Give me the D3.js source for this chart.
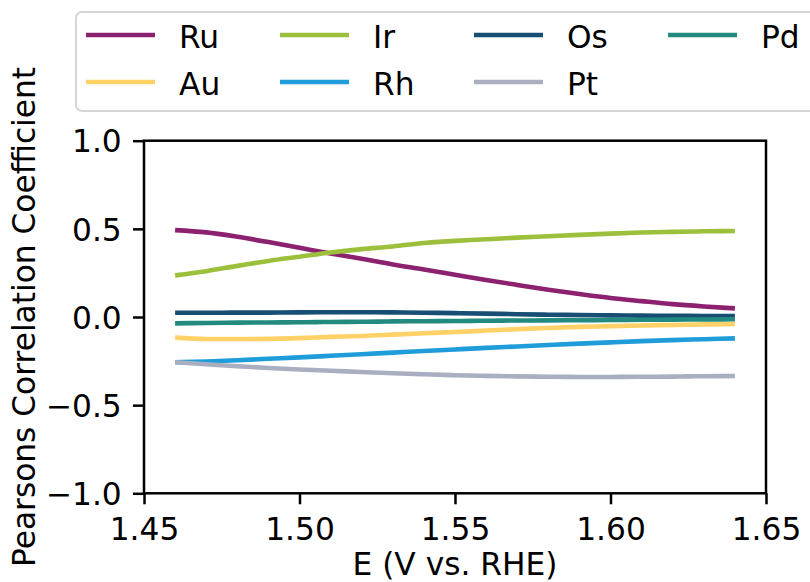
<!DOCTYPE html>
<html>
<head>
<meta charset="utf-8">
<script src="https://cdn.jsdelivr.net/npm/d3@7"></script>
<style>
  html, body { margin: 0; padding: 0; background: #fff; }
  svg { display: block; font-family: "DejaVu Sans", sans-serif; }
</style>
</head>
<body>
<svg id="chart" width="810" height="582"></svg>
<script>
// ---- data ----
const potentials = [1.46, 1.47, 1.48, 1.49, 1.50, 1.51, 1.52, 1.53, 1.54, 1.55,
                    1.56, 1.57, 1.58, 1.59, 1.60, 1.61, 1.62, 1.63, 1.64];
const Ru = [0.493, 0.480, 0.455, 0.425, 0.393, 0.360, 0.330, 0.298, 0.270, 0.240,
            0.210, 0.182, 0.155, 0.130, 0.108, 0.090, 0.073, 0.060, 0.049];
const Au = [-0.117, -0.125, -0.125, -0.124, -0.120, -0.113, -0.108, -0.100, -0.092, -0.085,
            -0.077, -0.069, -0.062, -0.056, -0.052, -0.048, -0.045, -0.042, -0.040];
const Ir = [0.236, 0.260, 0.290, 0.318, 0.342, 0.366, 0.385, 0.400, 0.420, 0.432,
            0.441, 0.450, 0.458, 0.466, 0.473, 0.479, 0.483, 0.486, 0.488];
const Rh = [-0.257, -0.252, -0.245, -0.237, -0.229, -0.220, -0.211, -0.202, -0.193, -0.184,
            -0.175, -0.167, -0.159, -0.151, -0.144, -0.137, -0.131, -0.126, -0.121];
const Os = [0.024, 0.024, 0.025, 0.025, 0.026, 0.027, 0.027, 0.026, 0.024, 0.022,
            0.019, 0.016, 0.013, 0.011, 0.009, 0.008, 0.007, 0.006, 0.005];
const Pt = [-0.257, -0.268, -0.279, -0.289, -0.298, -0.305, -0.312, -0.319, -0.325, -0.330,
            -0.334, -0.337, -0.339, -0.340, -0.340, -0.339, -0.338, -0.336, -0.335];
const Pd = [-0.036, -0.034, -0.032, -0.031, -0.030, -0.028, -0.027, -0.025, -0.024, -0.023,
            -0.021, -0.020, -0.019, -0.018, -0.017, -0.016, -0.015, -0.014, -0.013];

const seriesNames = ["Ru", "Au", "Ir", "Rh", "Os", "Pt", "Pd"];
const seriesValues = [Ru, Au, Ir, Rh, Os, Pt, Pd];
const seriesColors = ["#8C2170", "#FFD166", "#9CC03C", "#1F9CDA", "#184E74", "#A9AFC1", "#238A80"];

const xTicks = [1.45, 1.50, 1.55, 1.60, 1.65];
const yTicks = [-1.0, -0.5, 0.0, 0.5, 1.0];
const xLabel = "E (V vs. RHE)";
const yLabel = "Pearsons Correlation Coefficient";

// ---- layout ----
const svg = d3.select("#chart");
const L = 144, R = 766, T = 140.7, B = 493.3;
const fs = 31.25;

const x = d3.scaleLinear().domain([1.45, 1.65]).range([L, R]);
const y = d3.scaleLinear().domain([-1, 1]).range([B, T]);

// lines
const line = d3.line()
  .x((d, i) => x(potentials[i]))
  .y(d => y(d))
  .curve(d3.curveMonotoneX);

const gLines = svg.append("g");
seriesValues.forEach((vals, k) => {
  gLines.append("path")
    .datum(vals)
    .attr("d", line)
    .attr("fill", "none")
    .attr("stroke", seriesColors[k])
    .attr("stroke-width", 4.6)
    .attr("stroke-linecap", "butt")
    .attr("stroke-linejoin", "round");
});

// frame
svg.append("rect")
  .attr("x", L).attr("y", T)
  .attr("width", R - L).attr("height", B - T)
  .attr("fill", "none").attr("stroke", "#000").attr("stroke-width", 2.5);

// x axis
const xAxis = d3.axisBottom(x).tickValues(xTicks).tickSize(11).tickPadding(0)
  .tickFormat(d3.format(".2f"));
const gx = svg.append("g").attr("transform", `translate(0,${B})`).call(xAxis);
gx.select(".domain").remove();
gx.selectAll(".tick line").attr("stroke", "#000").attr("stroke-width", 2.5);
gx.selectAll(".tick text")
  .attr("y", 46.7).attr("dy", 0)
  .attr("fill", "#000")
  .style("font-size", fs + "px")
  .style("font-family", "DejaVu Sans");

// y axis
const yAxis = d3.axisLeft(y).tickValues(yTicks).tickSize(11).tickPadding(0)
  .tickFormat(d3.format(".1f"));
const gy = svg.append("g").attr("transform", `translate(${L},0)`).call(yAxis);
gy.select(".domain").remove();
gy.selectAll(".tick line").attr("stroke", "#000").attr("stroke-width", 2.5);
gy.selectAll(".tick text")
  .attr("x", -22.3).attr("dy", "0.36em")
  .attr("fill", "#000")
  .style("font-size", fs + "px")
  .style("font-family", "DejaVu Sans");

// axis labels
svg.append("text")
  .attr("x", (L + R) / 2).attr("y", 575)
  .attr("text-anchor", "middle")
  .style("font-size", fs + "px")
  .text(xLabel);

svg.append("text")
  .attr("transform", `translate(35,${(T + B) / 2}) rotate(-90)`)
  .attr("text-anchor", "middle")
  .style("font-size", fs + "px")
  .text(yLabel);

// legend
const gLeg = svg.append("g");
gLeg.append("rect")
  .attr("x", 76).attr("y", 12)
  .attr("width", 760).attr("height", 99)
  .attr("rx", 6).attr("ry", 6)
  .attr("fill", "#fff").attr("fill-opacity", 0.8)
  .attr("stroke", "#d6d6d6").attr("stroke-width", 2);

seriesNames.forEach((name, k) => {
  const col = Math.floor(k / 2), row = k % 2;
  const x0 = 86 + col * 194;
  const yy = 35 + row * 47;
  gLeg.append("line")
    .attr("x1", x0).attr("x2", x0 + 69)
    .attr("y1", yy).attr("y2", yy)
    .attr("stroke", seriesColors[k]).attr("stroke-width", 4.6);
  gLeg.append("text")
    .attr("x", x0 + 93).attr("y", yy + 12.5)
    .style("font-size", fs + "px")
    .text(name);
});
</script>
</body>
</html>
